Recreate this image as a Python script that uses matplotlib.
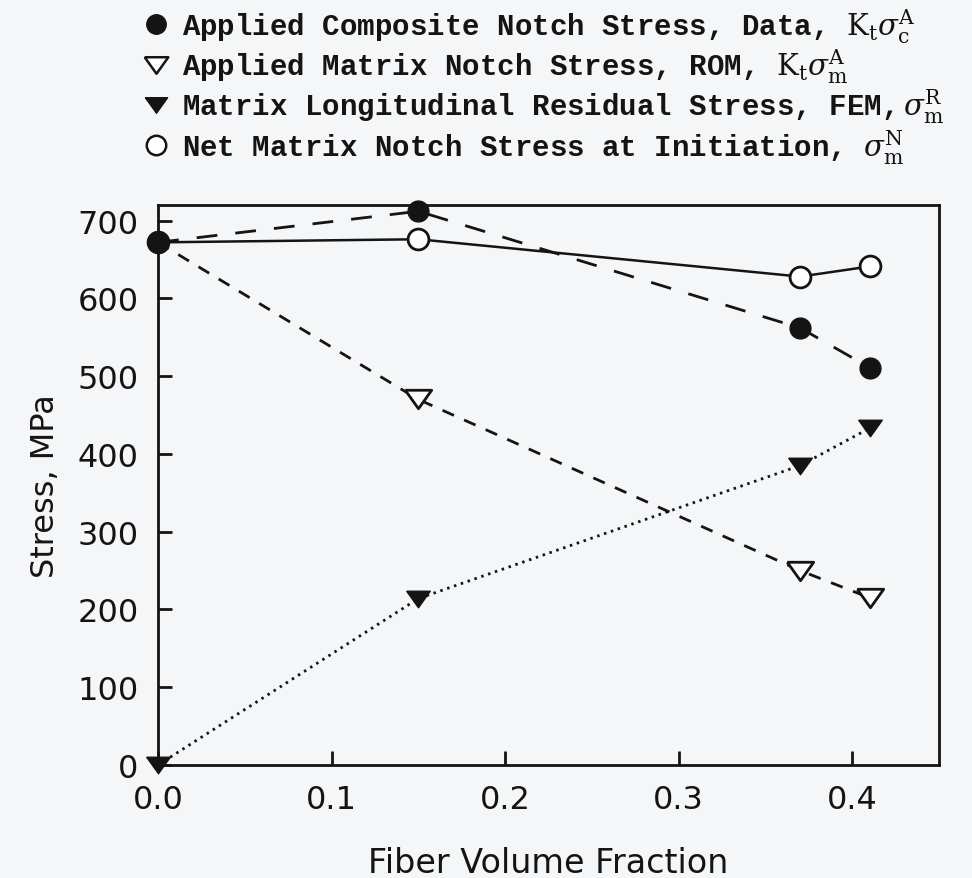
import matplotlib
matplotlib.use('Agg')
import matplotlib.pyplot as plt
from matplotlib.lines import Line2D

# fiber volume fraction
vf = [0.0, 0.15, 0.37, 0.41]

# stresses, MPa
composite_data = [672, 712, 562, 511]   # applied composite notch stress, Kt*sigma_c^A
matrix_rom = [672, 470, 250, 215]       # applied matrix notch stress, ROM
residual_fem = [0, 214, 385, 433]       # matrix longitudinal residual stress, FEM
net_matrix = [672, 676, 628, 641]       # net matrix notch stress at initiation

labels = [
    r'Applied Composite Notch Stress, Data, $\mathrm{K_t}\sigma_{\mathrm{c}}^{\mathrm{A}}$',
    r'Applied Matrix Notch Stress, ROM, $\mathrm{K_t}\sigma_{\mathrm{m}}^{\mathrm{A}}$',
    r'Matrix Longitudinal Residual Stress, FEM,$\,\sigma_{\mathrm{m}}^{\mathrm{R}}$',
    r'Net Matrix Notch Stress at Initiation, $\sigma_{\mathrm{m}}^{\mathrm{N}}$',
]

plt.rcParams['lines.scale_dashes'] = False
plt.rcParams['mathtext.fontset'] = 'dejavuserif'

ink = '#141414'
paper = '#f4f6f8'
tri_down = [(-1, 0.7), (1, 0.7), (0, -0.7), (-1, 0.7)]

fig = plt.figure(figsize=(9.72, 8.79), dpi=100, facecolor=paper)
ax = fig.add_axes([0.1626, 0.1286, 0.8034, 0.637])
ax.set_facecolor(paper)

ax.plot(vf, net_matrix, color=ink, lw=1.8, ls='-', marker='o', ms=15,
        mfc='white', mec=ink, mew=2, zorder=3, clip_on=False)
ax.plot(vf, matrix_rom, color=ink, lw=2, dashes=(9, 8), marker=tri_down, ms=19,
        mfc='white', mec=ink, mew=2, markevery=[1, 2, 3], zorder=3, clip_on=False)
ax.plot(vf, residual_fem, color=ink, lw=2, dashes=(1.8, 3.4), marker=tri_down, ms=17,
        mfc=ink, mec=ink, zorder=4, clip_on=False)
ax.plot(vf, composite_data, color=ink, lw=2, dashes=(15, 13), marker='o', ms=15,
        mfc=ink, mec=ink, zorder=5, clip_on=False)

ax.set_xlim(0, 0.45)
ax.set_ylim(0, 720)
ax.set_xticks([0.0, 0.1, 0.2, 0.3, 0.4])
ax.set_xticklabels(['0.0', '0.1', '0.2', '0.3', '0.4'])
ax.set_yticks(range(0, 701, 100))

for s in ax.spines.values():
    s.set_linewidth(2)
    s.set_color(ink)
ax.tick_params(direction='in', length=10, width=2, color=ink,
               labelsize=23, labelcolor=ink, top=False, right=False)
ax.tick_params(axis='x', pad=14)
ax.tick_params(axis='y', pad=14)

ax.set_xlabel('Fiber Volume Fraction', fontsize=24, color=ink, labelpad=22)
ax.set_ylabel('Stress, MPa', fontsize=23, color=ink, labelpad=12)

handles = [
    Line2D([], [], ls='none', marker='o', ms=14, mfc=ink, mec=ink),
    Line2D([], [], ls='none', marker=tri_down, ms=17, mfc='white', mec=ink, mew=1.8),
    Line2D([], [], ls='none', marker=tri_down, ms=16, mfc=ink, mec=ink),
    Line2D([], [], ls='none', marker='o', ms=14, mfc='white', mec=ink, mew=1.8),
]
fig.legend(handles, labels, loc='upper left', bbox_to_anchor=(0.121, 1.022),
           frameon=False, handlelength=0.8, handletextpad=0.5, labelspacing=0.06,
           prop={'family': 'Liberation Mono', 'weight': 'bold', 'size': 21},
           labelcolor=ink)

fig.savefig('out.png', dpi=100, facecolor=paper)
